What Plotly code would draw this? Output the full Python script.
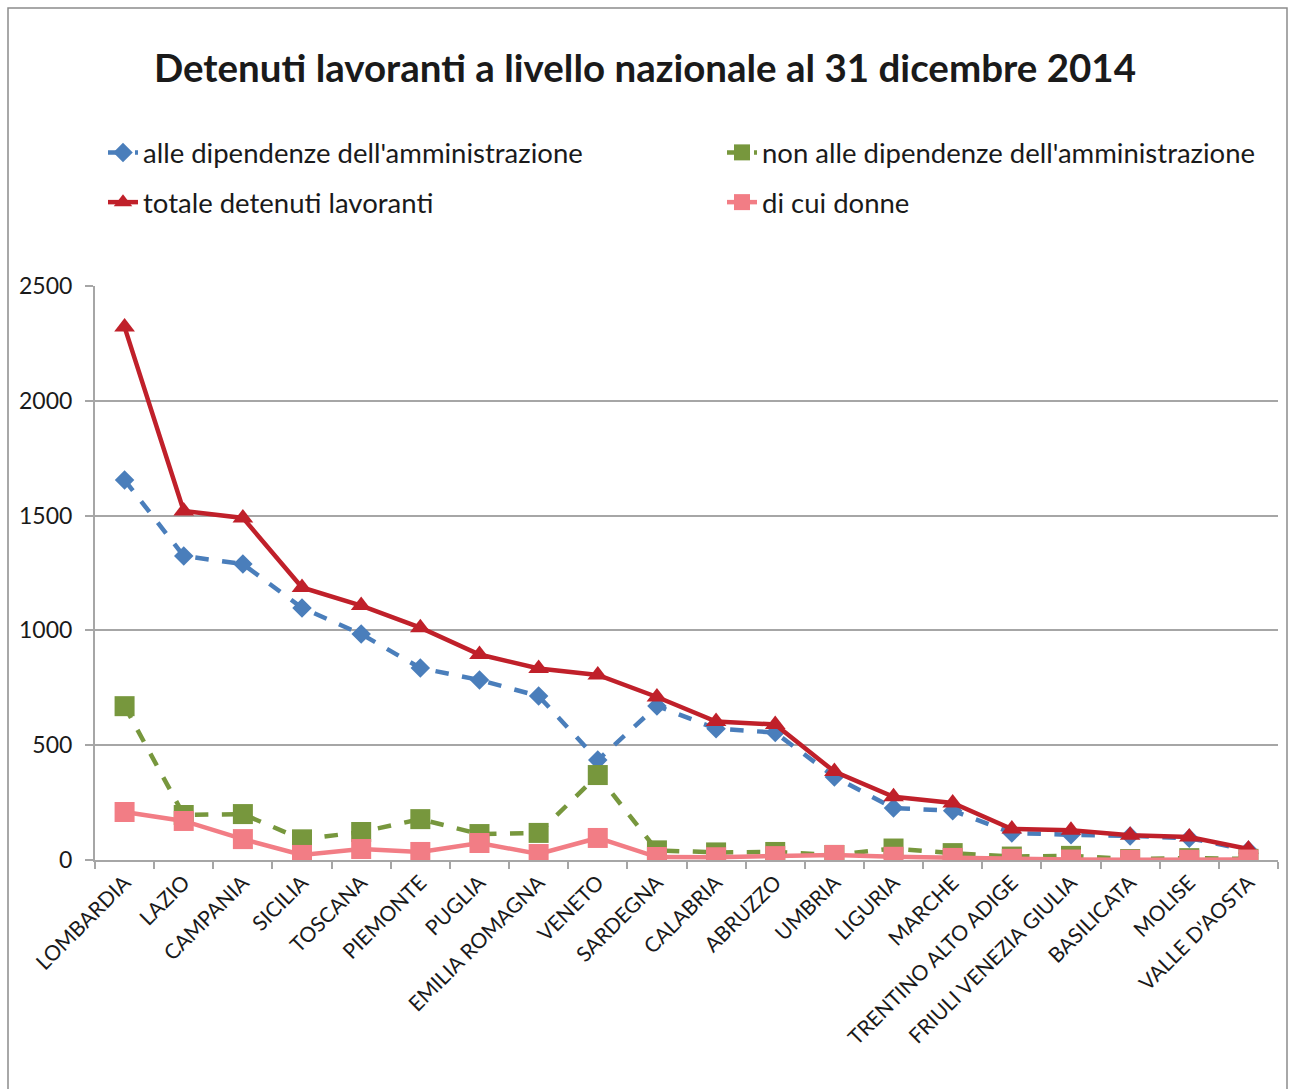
import plotly.graph_objects as go

regions = ["LOMBARDIA", "LAZIO", "CAMPANIA", "SICILIA", "TOSCANA", "PIEMONTE", "PUGLIA",
           "EMILIA ROMAGNA", "VENETO", "SARDEGNA", "CALABRIA", "ABRUZZO", "UMBRIA", "LIGURIA",
           "MARCHE", "TRENTINO ALTO ADIGE", "FRIULI VENEZIA GIULIA", "BASILICATA", "MOLISE",
           "VALLE D'AOSTA"]
alle_dipendenze = [1655, 1324, 1289, 1098, 984, 836, 784, 714, 435, 671, 572, 555, 362, 226, 215, 118, 110, 105, 95, 43]
non_alle_dipendenze = [670, 196, 200, 90, 122, 178, 113, 118, 370, 42, 33, 35, 22, 50, 30, 15, 18, 4, 8, 5]
totale = [2321, 1520, 1490, 1187, 1108, 1012, 895, 834, 806, 710, 603, 590, 385, 275, 248, 135, 130, 108, 100, 48]
donne = [209, 170, 91, 22, 48, 35, 74, 26, 96, 13, 12, 17, 22, 14, 9, 5, 2, 1, 1, 2]
y_ticks = [0, 500, 1000, 1500, 2000, 2500]

FONT = "Lato"
W, H = 1290, 1089
L, R, T, B = 95, 12, 286, 229
PW, PH = W - L - R, H - T - B

def px_x(p):
    return (p - L) / PW

def px_y(p):
    return (H - B - p) / PH

fig = go.Figure()
fig.add_trace(go.Scatter(x=regions, y=alle_dipendenze, name="alle dipendenze dell'amministrazione",
                         mode="lines+markers", legend="legend", legendgroup="a",
                         line=dict(color="#4A7EBB", width=4.5, dash="dash"),
                         marker=dict(symbol="diamond", size=15, color="#4A7EBB")))
fig.add_trace(go.Scatter(x=regions, y=non_alle_dipendenze, name="non alle dipendenze dell'amministrazione",
                         mode="lines+markers", legend="legend2", legendgroup="b",
                         line=dict(color="#77973D", width=4.5, dash="dash"),
                         marker=dict(symbol="square", size=20, color="#77973D")))
fig.add_trace(go.Scatter(x=regions, y=totale, name="totale detenuti lavoranti",
                         mode="lines+markers", legend="legend", legendgroup="c",
                         line=dict(color="#C0202A", width=4.5),
                         marker=dict(symbol="triangle-up", size=18, color="#C0202A")))
fig.add_trace(go.Scatter(x=regions, y=donne, name="di cui donne",
                         mode="lines+markers", legend="legend2", legendgroup="d",
                         line=dict(color="#F27D85", width=4.5),
                         marker=dict(symbol="square", size=20, color="#F27D85")))

legend_common = dict(orientation="v", yanchor="top", xanchor="left", traceorder="grouped",
                     tracegroupgap=11, font=dict(family=FONT, size=27.5, color="#1a1a1a"),
                     bgcolor="rgba(0,0,0,0)", itemwidth=30)

fig.update_layout(
    width=W, height=H,
    margin=dict(l=L, r=R, t=T, b=B),
    paper_bgcolor="white", plot_bgcolor="white",
    title=dict(text="<b>Detenuti lavoranti a livello nazionale al 31 dicembre 2014</b>",
               x=0.5, xanchor="center", y=1 - 69 / H, yanchor="middle",
               font=dict(family=FONT, size=38.5, color="#1a1a1a")),
    legend=dict(x=px_x(103), y=px_y(128), **legend_common),
    legend2=dict(x=px_x(722), y=px_y(128), **legend_common),
    showlegend=True,
    xaxis=dict(type="category", range=[-0.5, len(regions) - 0.5], tickangle=-45,
               tickson="boundaries", ticks="outside",
               ticklen=7, tickcolor="#A6A6A6", tickwidth=1.5,
               showline=True, linecolor="#A6A6A6", linewidth=2, showgrid=False,
               tickfont=dict(family=FONT, size=21, color="#1a1a1a")),
    yaxis=dict(range=[0, 2500], tickvals=y_ticks, ticks="outside", ticklen=8,
               tickcolor="#A6A6A6", tickwidth=1.5, ticklabelstandoff=8,
               showline=True, linecolor="#A6A6A6", linewidth=2,
               showgrid=True, gridcolor="#A6A6A6", gridwidth=1.5, zeroline=False,
               tickfont=dict(family=FONT, size=23, color="#1a1a1a")),
)

fig.add_shape(type="rect", xref="paper", yref="paper",
              x0=px_x(8), x1=px_x(1287), y0=px_y(1100), y1=px_y(8),
              line=dict(color="#8C8C8C", width=1.5), fillcolor="rgba(0,0,0,0)", layer="below")

fig.write_html("out.html", config={"displayModeBar": False},
               post_script="document.body.style.margin='0';")
